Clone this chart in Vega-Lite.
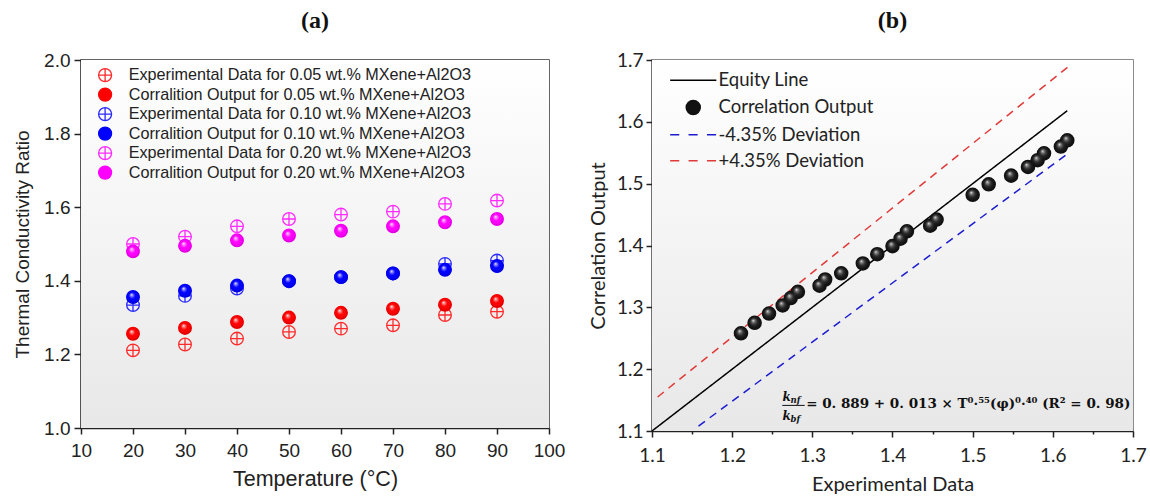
{
  "$schema": "https://vega.github.io/schema/vega-lite/v6.json",
  "background": "white",
  "padding": {"left": 12, "top": 8, "right": 4, "bottom": 2},
  "spacing": 21,
  "bounds": "full",
  "resolve": {
    "scale": {"color": "independent", "fill": "independent", "stroke": "independent", "shape": "independent", "strokeDash": "independent"},
    "legend": {"color": "independent", "fill": "independent", "stroke": "independent", "shape": "independent", "strokeDash": "independent"}
  },
  "config": {
    "view": {"stroke": "#333333", "strokeWidth": 1.5},
    "axis": {"grid": false, "domainColor": "#222222", "domainWidth": 1.5, "tickColor": "#222222", "tickWidth": 1.5, "labelColor": "#222222", "titleColor": "#222222", "titleFontWeight": "normal", "labelFlush": false, "labelBound": false, "labelOverlap": false},
    "title": {"font": "Liberation Serif", "fontSize": 24, "fontWeight": "bold", "color": "#111111", "anchor": "middle"}
  },
  "datasets": {
    "tcr": [
      {"temp": 20, "ratio": 1.211, "series": "Experimental Data for 0.05 wt.% MXene+Al2O3"},
      {"temp": 30, "ratio": 1.227, "series": "Experimental Data for 0.05 wt.% MXene+Al2O3"},
      {"temp": 40, "ratio": 1.243, "series": "Experimental Data for 0.05 wt.% MXene+Al2O3"},
      {"temp": 50, "ratio": 1.261, "series": "Experimental Data for 0.05 wt.% MXene+Al2O3"},
      {"temp": 60, "ratio": 1.270, "series": "Experimental Data for 0.05 wt.% MXene+Al2O3"},
      {"temp": 70, "ratio": 1.279, "series": "Experimental Data for 0.05 wt.% MXene+Al2O3"},
      {"temp": 80, "ratio": 1.307, "series": "Experimental Data for 0.05 wt.% MXene+Al2O3"},
      {"temp": 90, "ratio": 1.316, "series": "Experimental Data for 0.05 wt.% MXene+Al2O3"},
      {"temp": 20, "ratio": 1.256, "series": "Corralition Output for 0.05 wt.% MXene+Al2O3"},
      {"temp": 30, "ratio": 1.272, "series": "Corralition Output for 0.05 wt.% MXene+Al2O3"},
      {"temp": 40, "ratio": 1.288, "series": "Corralition Output for 0.05 wt.% MXene+Al2O3"},
      {"temp": 50, "ratio": 1.300, "series": "Corralition Output for 0.05 wt.% MXene+Al2O3"},
      {"temp": 60, "ratio": 1.313, "series": "Corralition Output for 0.05 wt.% MXene+Al2O3"},
      {"temp": 70, "ratio": 1.324, "series": "Corralition Output for 0.05 wt.% MXene+Al2O3"},
      {"temp": 80, "ratio": 1.335, "series": "Corralition Output for 0.05 wt.% MXene+Al2O3"},
      {"temp": 90, "ratio": 1.345, "series": "Corralition Output for 0.05 wt.% MXene+Al2O3"},
      {"temp": 20, "ratio": 1.334, "series": "Experimental Data for 0.10 wt.% MXene+Al2O3"},
      {"temp": 30, "ratio": 1.359, "series": "Experimental Data for 0.10 wt.% MXene+Al2O3"},
      {"temp": 40, "ratio": 1.379, "series": "Experimental Data for 0.10 wt.% MXene+Al2O3"},
      {"temp": 50, "ratio": 1.399, "series": "Experimental Data for 0.10 wt.% MXene+Al2O3"},
      {"temp": 60, "ratio": 1.410, "series": "Experimental Data for 0.10 wt.% MXene+Al2O3"},
      {"temp": 70, "ratio": 1.420, "series": "Experimental Data for 0.10 wt.% MXene+Al2O3"},
      {"temp": 80, "ratio": 1.446, "series": "Experimental Data for 0.10 wt.% MXene+Al2O3"},
      {"temp": 90, "ratio": 1.455, "series": "Experimental Data for 0.10 wt.% MXene+Al2O3"},
      {"temp": 20, "ratio": 1.356, "series": "Corralition Output for 0.10 wt.% MXene+Al2O3"},
      {"temp": 30, "ratio": 1.373, "series": "Corralition Output for 0.10 wt.% MXene+Al2O3"},
      {"temp": 40, "ratio": 1.387, "series": "Corralition Output for 0.10 wt.% MXene+Al2O3"},
      {"temp": 50, "ratio": 1.399, "series": "Corralition Output for 0.10 wt.% MXene+Al2O3"},
      {"temp": 60, "ratio": 1.410, "series": "Corralition Output for 0.10 wt.% MXene+Al2O3"},
      {"temp": 70, "ratio": 1.420, "series": "Corralition Output for 0.10 wt.% MXene+Al2O3"},
      {"temp": 80, "ratio": 1.430, "series": "Corralition Output for 0.10 wt.% MXene+Al2O3"},
      {"temp": 90, "ratio": 1.440, "series": "Corralition Output for 0.10 wt.% MXene+Al2O3"},
      {"temp": 20, "ratio": 1.500, "series": "Experimental Data for 0.20 wt.% MXene+Al2O3"},
      {"temp": 30, "ratio": 1.520, "series": "Experimental Data for 0.20 wt.% MXene+Al2O3"},
      {"temp": 40, "ratio": 1.548, "series": "Experimental Data for 0.20 wt.% MXene+Al2O3"},
      {"temp": 50, "ratio": 1.568, "series": "Experimental Data for 0.20 wt.% MXene+Al2O3"},
      {"temp": 60, "ratio": 1.580, "series": "Experimental Data for 0.20 wt.% MXene+Al2O3"},
      {"temp": 70, "ratio": 1.588, "series": "Experimental Data for 0.20 wt.% MXene+Al2O3"},
      {"temp": 80, "ratio": 1.609, "series": "Experimental Data for 0.20 wt.% MXene+Al2O3"},
      {"temp": 90, "ratio": 1.618, "series": "Experimental Data for 0.20 wt.% MXene+Al2O3"},
      {"temp": 20, "ratio": 1.480, "series": "Corralition Output for 0.20 wt.% MXene+Al2O3"},
      {"temp": 30, "ratio": 1.495, "series": "Corralition Output for 0.20 wt.% MXene+Al2O3"},
      {"temp": 40, "ratio": 1.510, "series": "Corralition Output for 0.20 wt.% MXene+Al2O3"},
      {"temp": 50, "ratio": 1.523, "series": "Corralition Output for 0.20 wt.% MXene+Al2O3"},
      {"temp": 60, "ratio": 1.536, "series": "Corralition Output for 0.20 wt.% MXene+Al2O3"},
      {"temp": 70, "ratio": 1.548, "series": "Corralition Output for 0.20 wt.% MXene+Al2O3"},
      {"temp": 80, "ratio": 1.559, "series": "Corralition Output for 0.20 wt.% MXene+Al2O3"},
      {"temp": 90, "ratio": 1.568, "series": "Corralition Output for 0.20 wt.% MXene+Al2O3"}
    ],
    "corr": [
      {"exp": 1.211, "out": 1.258, "series": "Correlation Output"},
      {"exp": 1.228, "out": 1.275, "series": "Correlation Output"},
      {"exp": 1.246, "out": 1.290, "series": "Correlation Output"},
      {"exp": 1.263, "out": 1.303, "series": "Correlation Output"},
      {"exp": 1.273, "out": 1.315, "series": "Correlation Output"},
      {"exp": 1.282, "out": 1.325, "series": "Correlation Output"},
      {"exp": 1.309, "out": 1.335, "series": "Correlation Output"},
      {"exp": 1.316, "out": 1.345, "series": "Correlation Output"},
      {"exp": 1.336, "out": 1.355, "series": "Correlation Output"},
      {"exp": 1.363, "out": 1.371, "series": "Correlation Output"},
      {"exp": 1.381, "out": 1.386, "series": "Correlation Output"},
      {"exp": 1.400, "out": 1.399, "series": "Correlation Output"},
      {"exp": 1.410, "out": 1.411, "series": "Correlation Output"},
      {"exp": 1.418, "out": 1.423, "series": "Correlation Output"},
      {"exp": 1.447, "out": 1.432, "series": "Correlation Output"},
      {"exp": 1.455, "out": 1.442, "series": "Correlation Output"},
      {"exp": 1.500, "out": 1.482, "series": "Correlation Output"},
      {"exp": 1.520, "out": 1.499, "series": "Correlation Output"},
      {"exp": 1.548, "out": 1.513, "series": "Correlation Output"},
      {"exp": 1.569, "out": 1.527, "series": "Correlation Output"},
      {"exp": 1.581, "out": 1.538, "series": "Correlation Output"},
      {"exp": 1.589, "out": 1.549, "series": "Correlation Output"},
      {"exp": 1.610, "out": 1.560, "series": "Correlation Output"},
      {"exp": 1.618, "out": 1.570, "series": "Correlation Output"}
    ],
    "lines": [
      {"exp": 1.1, "out": 1.1, "series": "Equity Line"},
      {"exp": 1.618, "out": 1.618, "series": "Equity Line"},
      {"exp": 1.158, "out": 1.108, "series": "-4.35% Deviation"},
      {"exp": 1.618, "out": 1.548, "series": "-4.35% Deviation"},
      {"exp": 1.107, "out": 1.155, "series": "+4.35% Deviation"},
      {"exp": 1.619, "out": 1.689, "series": "+4.35% Deviation"}
    ]
  },
  "hconcat": [
    {
      "width": 468,
      "height": 368,
      "title": {"text": "(a)", "offset": 18},
      "layer": [
        {
          "data": {"values": [{}]},
          "mark": {"type": "rect", "fill": {"gradient": "linear", "x1": 0, "y1": 0, "x2": 0, "y2": 1, "stops": [{"offset": 0, "color": "#ffffff"}, {"offset": 1, "color": "#e8e8e8"}]}},
          "encoding": {}
        },
        {
          "data": {"name": "tcr"},
          "mark": {"type": "point", "strokeWidth": 1.3, "size": 160, "opacity": 1},
          "encoding": {
            "x": {"field": "temp", "type": "quantitative", "scale": {"domain": [10, 100], "nice": false},
              "axis": {"values": [10, 15, 20, 25, 30, 35, 40, 45, 50, 55, 60, 65, 70, 75, 80, 85, 90, 95, 100],
                "labelExpr": "datum.value % 10 == 0 ? datum.label : ''",
                "tickSize": {"condition": {"test": "datum.value % 10 == 0", "value": 6}, "value": 3},
                "labelFont": "Liberation Sans", "labelFontSize": 19, "labelPadding": 7,
                "title": "Temperature (°C)", "titleFont": "Liberation Sans", "titleFontSize": 21.5, "titlePadding": 8}},
            "y": {"field": "ratio", "type": "quantitative", "scale": {"domain": [1, 2], "nice": false, "zero": false},
              "axis": {"values": [1, 1.1, 1.2, 1.3, 1.4, 1.5, 1.6, 1.7, 1.8, 1.9, 2],
                "labelExpr": "round(datum.value*10) % 2 == 0 ? format(datum.value, '.1f') : ''",
                "tickSize": {"condition": {"test": "round(datum.value*10) % 2 == 0", "value": 7}, "value": 4},
                "labelFont": "Liberation Sans", "labelFontSize": 19, "labelPadding": 4,
                "title": "Thermal Conductivity Ratio", "titleFont": "Liberation Sans", "titleFontSize": 19, "titlePadding": 11}},
            "stroke": {"field": "series", "type": "nominal",
              "scale": {"domain": ["Experimental Data for 0.05 wt.% MXene+Al2O3", "Corralition Output for 0.05 wt.% MXene+Al2O3", "Experimental Data for 0.10 wt.% MXene+Al2O3", "Corralition Output for 0.10 wt.% MXene+Al2O3", "Experimental Data for 0.20 wt.% MXene+Al2O3", "Corralition Output for 0.20 wt.% MXene+Al2O3"],
                "range": ["#ff2a2a", "#ff0000", "#2a2aff", "#0000ff", "#ff2aff", "#ff00ff"]},
              "legend": {"title": null, "orient": "none", "legendX": 16, "legendY": 7, "padding": 0, "symbolSize": 169, "symbolStrokeWidth": 1.3, "labelFont": "Liberation Sans", "labelFontSize": 16.2, "labelColor": "#222222", "labelOffset": 15.5, "labelLimit": 600, "rowPadding": 0.5}},
            "fill": {"field": "series", "type": "nominal",
              "scale": {"domain": ["Experimental Data for 0.05 wt.% MXene+Al2O3", "Corralition Output for 0.05 wt.% MXene+Al2O3", "Experimental Data for 0.10 wt.% MXene+Al2O3", "Corralition Output for 0.10 wt.% MXene+Al2O3", "Experimental Data for 0.20 wt.% MXene+Al2O3", "Corralition Output for 0.20 wt.% MXene+Al2O3"],
                "range": ["transparent", "#ff0000", "transparent", "#0000ff", "transparent", "#ff00ff"]},
              "legend": {"title": null, "orient": "none", "legendX": 16, "legendY": 7, "padding": 0, "symbolSize": 169, "symbolStrokeWidth": 1.3, "labelFont": "Liberation Sans", "labelFontSize": 16.2, "labelColor": "#222222", "labelOffset": 15.5, "labelLimit": 600, "rowPadding": 0.5}},
            "shape": {"field": "series", "type": "nominal",
              "scale": {"domain": ["Experimental Data for 0.05 wt.% MXene+Al2O3", "Corralition Output for 0.05 wt.% MXene+Al2O3", "Experimental Data for 0.10 wt.% MXene+Al2O3", "Corralition Output for 0.10 wt.% MXene+Al2O3", "Experimental Data for 0.20 wt.% MXene+Al2O3", "Corralition Output for 0.20 wt.% MXene+Al2O3"],
                "range": ["M-1,0A1,1,0,1,0,1,0A1,1,0,1,0,-1,0M-1,0L1,0M0,-1L0,1", "circle", "M-1,0A1,1,0,1,0,1,0A1,1,0,1,0,-1,0M-1,0L1,0M0,-1L0,1", "circle", "M-1,0A1,1,0,1,0,1,0A1,1,0,1,0,-1,0M-1,0L1,0M0,-1L0,1", "circle"]},
              "legend": {"title": null, "orient": "none", "legendX": 16, "legendY": 7, "padding": 0, "symbolSize": 169, "symbolStrokeWidth": 1.3, "labelFont": "Liberation Sans", "labelFontSize": 16.2, "labelColor": "#222222", "labelOffset": 15.5, "labelLimit": 600, "rowPadding": 0.5}}
          }
        },
        {
          "data": {"name": "tcr"},
          "transform": [{"filter": "indexof(datum.series, 'Corralition') == 0"}],
          "mark": {"type": "point", "filled": true, "size": 170, "strokeWidth": 0, "opacity": 1,
            "fill": {"gradient": "radial", "x1": 0.38, "y1": 0.32, "r1": 0, "x2": 0.5, "y2": 0.5, "r2": 0.55, "stops": [{"offset": 0, "color": "rgba(255,255,255,0.95)"}, {"offset": 0.18, "color": "rgba(255,255,255,0.5)"}, {"offset": 0.45, "color": "rgba(255,255,255,0)"}, {"offset": 0.8, "color": "rgba(0,0,0,0.06)"}, {"offset": 1, "color": "rgba(0,0,0,0.3)"}]}},
          "encoding": {
            "x": {"field": "temp", "type": "quantitative"},
            "y": {"field": "ratio", "type": "quantitative"}
          }
        }
      ]
    },
    {
      "width": 481,
      "height": 371,
      "title": {"text": "(b)", "offset": 18},
      "view": {"stroke": "#666666", "strokeWidth": 1.5},
      "layer": [
        {
          "data": {"values": [{}]},
          "mark": {"type": "rect", "fill": {"gradient": "linear", "x1": 0, "y1": 0, "x2": 0, "y2": 1, "stops": [{"offset": 0, "color": "#ffffff"}, {"offset": 1, "color": "#e8e8e8"}]}},
          "encoding": {}
        },
        {
          "data": {"name": "lines"},
          "mark": {"type": "line", "strokeWidth": 1.5},
          "encoding": {
            "x": {"field": "exp", "type": "quantitative", "scale": {"domain": [1.1, 1.7], "nice": false, "zero": false},
              "axis": {"values": [1.1, 1.15, 1.2, 1.25, 1.3, 1.35, 1.4, 1.45, 1.5, 1.55, 1.6, 1.65, 1.7],
                "labelExpr": "round(datum.value*100) % 10 == 0 ? format(datum.value, '.1f') : ''",
                "tickSize": {"condition": {"test": "round(datum.value*100) % 10 == 0", "value": 6}, "value": 3},
                "labelFont": "Lato", "labelFontSize": 19, "labelPadding": 9,
                "title": "Experimental Data", "titleFont": "Lato", "titleFontSize": 20, "titlePadding": 9}},
            "y": {"field": "out", "type": "quantitative", "scale": {"domain": [1.1, 1.7], "nice": false, "zero": false},
              "axis": {"values": [1.1, 1.15, 1.2, 1.25, 1.3, 1.35, 1.4, 1.45, 1.5, 1.55, 1.6, 1.65, 1.7],
                "labelExpr": "round(datum.value*100) % 10 == 0 ? format(datum.value, '.1f') : ''",
                "tickSize": {"condition": {"test": "round(datum.value*100) % 10 == 0", "value": 6}, "value": 3},
                "labelFont": "Lato", "labelFontSize": 19, "labelPadding": 3,
                "title": "Correlation Output", "titleFont": "Lato", "titleFontSize": 20, "titlePadding": 8}},
            "stroke": {"field": "series", "type": "nominal",
              "scale": {"domain": ["Equity Line", "-4.35% Deviation", "+4.35% Deviation"], "range": ["#000000", "#1c1cd0", "#e03a3a"]},
              "legend": null},
            "strokeDash": {"field": "series", "type": "nominal",
              "scale": {"domain": ["Equity Line", "-4.35% Deviation", "+4.35% Deviation"], "range": [[1, 0], [8, 6], [8, 6]]},
              "legend": null}
          }
        },
        {
          "data": {"name": "corr"},
          "mark": {"type": "point", "filled": false, "size": 170, "strokeWidth": 1.5, "opacity": 1},
          "encoding": {
            "x": {"field": "exp", "type": "quantitative"},
            "y": {"field": "out", "type": "quantitative"},
            "color": {"field": "series", "type": "nominal",
              "scale": {"domain": ["Equity Line", "Correlation Output", "-4.35% Deviation", "+4.35% Deviation"], "range": ["#000000", "#111111", "#1c1cd0", "#e03a3a"]},
              "legend": {"title": null, "orient": "none", "legendX": 32, "legendY": 11, "padding": 0, "symbolSize": 196, "symbolStrokeWidth": 1.5, "labelFont": "Lato", "labelFontSize": 18.5, "labelColor": "#222222", "labelOffset": 16, "labelLimit": 400, "rowPadding": 7.2}},
            "fill": {"field": "series", "type": "nominal",
              "scale": {"domain": ["Equity Line", "Correlation Output", "-4.35% Deviation", "+4.35% Deviation"], "range": ["transparent", "#111111", "transparent", "transparent"]},
              "legend": {"title": null, "orient": "none", "legendX": 32, "legendY": 11, "padding": 0, "symbolSize": 196, "symbolStrokeWidth": 1.5, "labelFont": "Lato", "labelFontSize": 18.5, "labelColor": "#222222", "labelOffset": 16, "labelLimit": 400, "rowPadding": 7.2}},
            "shape": {"field": "series", "type": "nominal",
              "scale": {"domain": ["Equity Line", "Correlation Output", "-4.35% Deviation", "+4.35% Deviation"], "range": ["M-3.3,0L3.3,0", "circle", "M-3.3,0L-2,0M-0.67,0L0.63,0M1.96,0L3.26,0", "M-3.3,0L-2,0M-0.67,0L0.63,0M1.96,0L3.26,0"]},
              "legend": {"title": null, "orient": "none", "legendX": 32, "legendY": 11, "padding": 0, "symbolSize": 196, "symbolStrokeWidth": 1.5, "labelFont": "Lato", "labelFontSize": 18.5, "labelColor": "#222222", "labelOffset": 16, "labelLimit": 400, "rowPadding": 7.2}}
          }
        },
        {
          "data": {"name": "corr"},
          "mark": {"type": "point", "filled": true, "size": 170, "strokeWidth": 0, "opacity": 1,
            "fill": {"gradient": "radial", "x1": 0.38, "y1": 0.32, "r1": 0, "x2": 0.5, "y2": 0.5, "r2": 0.55, "stops": [{"offset": 0, "color": "rgba(255,255,255,0.95)"}, {"offset": 0.15, "color": "rgba(200,200,200,0.7)"}, {"offset": 0.5, "color": "rgba(120,120,120,0.25)"}, {"offset": 1, "color": "rgba(0,0,0,0)"}]}},
          "encoding": {
            "x": {"field": "exp", "type": "quantitative"},
            "y": {"field": "out", "type": "quantitative"}
          }
        },
        {
          "data": {"values": [{}]},
          "mark": {"type": "text", "text": "= 0. 889 + 0. 013 × T⁰·⁵⁵(φ)⁰·⁴⁰  (R² = 0. 98)", "align": "left", "baseline": "middle", "font": "DejaVu Serif", "fontSize": 13.5, "fontWeight": "bold", "color": "#111111"},
          "encoding": {"x": {"datum": 1.2923}, "y": {"datum": 1.144}}
        },
        {
          "data": {"values": [{}]},
          "mark": {"type": "rule", "strokeWidth": 1, "color": "#111111"},
          "encoding": {"x": {"datum": 1.2625}, "x2": {"datum": 1.2905}, "y": {"datum": 1.1414}}
        },
        {
          "data": {"values": [{}]},
          "mark": {"type": "text", "text": "k", "align": "left", "baseline": "middle", "font": "DejaVu Serif", "fontSize": 12, "fontWeight": "bold", "fontStyle": "italic", "color": "#111111"},
          "encoding": {"x": {"datum": 1.2628}, "y": {"datum": 1.1548}}
        },
        {
          "data": {"values": [{}]},
          "mark": {"type": "text", "text": "nf", "align": "left", "baseline": "middle", "font": "DejaVu Serif", "fontSize": 8.5, "fontWeight": "bold", "fontStyle": "italic", "color": "#111111", "dx": 8, "dy": 3},
          "encoding": {"x": {"datum": 1.2628}, "y": {"datum": 1.1548}}
        },
        {
          "data": {"values": [{}]},
          "mark": {"type": "text", "text": "k", "align": "left", "baseline": "middle", "font": "DejaVu Serif", "fontSize": 12, "fontWeight": "bold", "fontStyle": "italic", "color": "#111111"},
          "encoding": {"x": {"datum": 1.2628}, "y": {"datum": 1.1245}}
        },
        {
          "data": {"values": [{}]},
          "mark": {"type": "text", "text": "bf", "align": "left", "baseline": "middle", "font": "DejaVu Serif", "fontSize": 8.5, "fontWeight": "bold", "fontStyle": "italic", "color": "#111111", "dx": 8, "dy": 3},
          "encoding": {"x": {"datum": 1.2628}, "y": {"datum": 1.1245}}
        }
      ]
    }
  ]
}
